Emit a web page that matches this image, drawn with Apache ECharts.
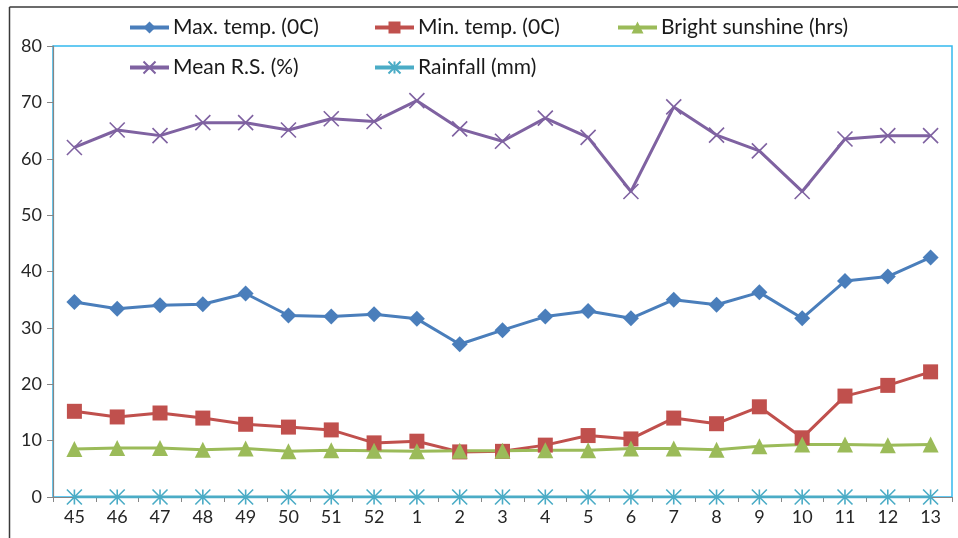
<!DOCTYPE html>
<html>
<head>
<meta charset="utf-8">
<script src="https://cdn.jsdelivr.net/npm/echarts@6/dist/echarts.min.js"></script>
<style>
  html, body { margin: 0; padding: 0; background: #fff; }
  #chart { width: 958px; height: 538px; }
</style>
</head>
<body>
<div id="chart"></div>
<script>
// Standard weeks (45–52, then 1–13)
const weeks = ['45', '46', '47', '48', '49', '50', '51', '52', '1', '2', '3', '4', '5', '6', '7', '8', '9', '10', '11', '12', '13'];

const maxTemp = [34.6, 33.4, 34.0, 34.2, 36.1, 32.2, 32.0, 32.4, 31.6, 27.1, 29.6, 32.0, 33.0, 31.7, 35.0, 34.1, 36.3, 31.7, 38.3, 39.1, 42.5];
const minTemp = [15.2, 14.2, 14.9, 14.0, 12.9, 12.4, 11.9, 9.6, 9.9, 8.0, 8.1, 9.2, 10.9, 10.3, 14.0, 13.0, 16.0, 10.5, 17.9, 19.8, 22.2];
const sunshine = [8.5, 8.7, 8.7, 8.4, 8.6, 8.1, 8.3, 8.2, 8.1, 8.2, 8.2, 8.3, 8.3, 8.6, 8.6, 8.4, 9.0, 9.3, 9.3, 9.2, 9.3];
const meanRS = [62.0, 65.1, 64.1, 66.4, 66.4, 65.1, 67.1, 66.6, 70.3, 65.3, 63.1, 67.2, 63.8, 54.2, 69.2, 64.2, 61.4, 54.2, 63.5, 64.1, 64.1];
const rainfall = [0, 0, 0, 0, 0, 0, 0, 0, 0, 0, 0, 0, 0, 0, 0, 0, 0, 0, 0, 0, 0];

const yTicks = { min: 0, max: 80, interval: 10 };

const names = ['Max. temp. (0C)', 'Min. temp. (0C)', 'Bright sunshine (hrs)', 'Mean R.S. (%)', 'Rainfall (mm)'];

const FONT = 'Lato';
const crossPath = 'path://M0,0L10,10M10,0L0,10';
const starPath = 'path://M0,0L10,10M10,0L0,10M5,0L5,10';

function lineSeries(name, data, color, symbol, size, strokeOnly) {
  return {
    name: name,
    type: 'line',
    data: data,
    symbol: symbol,
    symbolSize: size,
    showAllSymbol: true,
    lineStyle: { color: color, width: 3 },
    itemStyle: strokeOnly
      ? { color: color, borderColor: color, borderWidth: 1.6 }
      : { color: color, borderWidth: 0 },
    emphasis: { disabled: true },
    animation: false
  };
}

function legendAt(name, left, top) {
  return {
    data: [name],
    left: left,
    top: top,
    itemWidth: 39,
    itemHeight: 15,
    itemGap: 0,
    padding: 0,
    lineStyle: { width: 4 },
    textStyle: { fontFamily: FONT, fontSize: 21, color: '#1a1a1a', padding: [0, 0, 0, -1] },
    selectedMode: false
  };
}

const chart = echarts.init(document.getElementById('chart'), null, { renderer: 'canvas' });

chart.setOption({
  backgroundColor: '#ffffff',
  animation: false,
  legend: [
    legendAt(names[0], 128, 17),
    legendAt(names[1], 373, 17),
    legendAt(names[2], 616, 17),
    legendAt(names[3], 128, 57),
    legendAt(names[4], 373, 57)
  ],
  grid: {
    left: 53, right: 6, top: 46, bottom: 41,
    show: true,
    borderColor: '#33B9EE',
    borderWidth: 1.5,
    backgroundColor: 'transparent'
  },
  xAxis: {
    type: 'category',
    data: weeks,
    boundaryGap: true,
    axisLine: { lineStyle: { color: '#868686', width: 1.2 } },
    axisTick: { show: true, length: 5, lineStyle: { color: '#868686' } },
    axisLabel: { fontFamily: FONT, fontSize: 18, color: '#262626', margin: 11 },
    splitLine: { show: false }
  },
  yAxis: {
    type: 'value',
    min: yTicks.min,
    max: yTicks.max,
    interval: yTicks.interval,
    axisLine: { show: true, lineStyle: { color: '#868686', width: 1.2 } },
    axisTick: { show: true, length: 6, lineStyle: { color: '#868686' } },
    axisLabel: { fontFamily: FONT, fontSize: 18, color: '#262626', margin: 11 },
    splitLine: { show: false }
  },
  series: [
    lineSeries(names[0], maxTemp, '#4A7EBB', 'diamond', 16, false),
    lineSeries(names[1], minTemp, '#C0504D', 'rect', 15, false),
    lineSeries(names[2], sunshine, '#9BBB59', 'triangle', 16, false),
    lineSeries(names[3], meanRS, '#7F62A1', crossPath, 15, true),
    lineSeries(names[4], rainfall, '#4BACC6', starPath, 15, true)
  ],
  graphic: [
    { type: 'line', shape: { x1: 9.5, y1: 7, x2: 958, y2: 7 }, style: { stroke: '#3a3a3a', lineWidth: 1.5 }, silent: true },
    { type: 'line', shape: { x1: 9.5, y1: 7, x2: 9.5, y2: 538 }, style: { stroke: '#3a3a3a', lineWidth: 1.5 }, silent: true }
  ]
});
</script>
</body>
</html>
